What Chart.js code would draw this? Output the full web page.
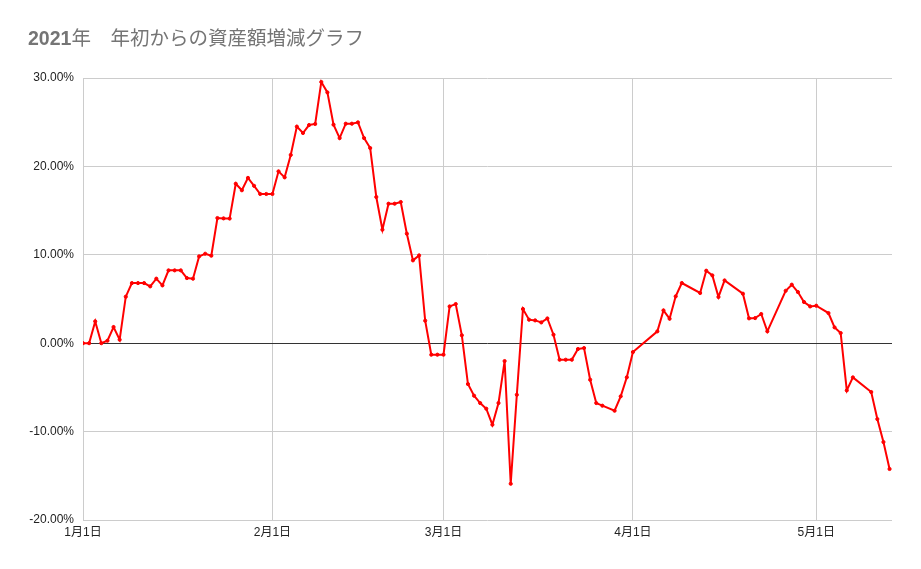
<!DOCTYPE html>
<html lang="ja">
<head>
<meta charset="UTF-8">
<title>2021年 年初からの資産額増減グラフ</title>
<script src="https://cdn.jsdelivr.net/npm/chart.js"></script>
<style>
  body { margin: 0; background: #fff; }
  #wrap { position: relative; width: 921px; height: 569px; }
  #title {
    position: absolute; left: 28px; top: 27px;
    font-family: "Liberation Sans", "Noto Sans CJK JP", sans-serif;
    font-size: 19.5px; line-height: 22px; color: #757575; white-space: pre;
  }
  #title b { font-weight: bold; }
</style>
</head>
<body>
<div id="wrap">
  <canvas id="assetChart" width="921" height="569"></canvas>
  <div id="title"><b>2021</b>年　年初からの資産額増減グラフ</div>
</div>
<script>
// days since Jan 1 (0 = 1月1日)
const days = [0,1,2,3,4,5,6,7,8,9,10,11,12,13,14,15,16,17,18,19,20,21,22,23,24,25,26,27,28,29,
  30,31,32,33,34,35,36,37,38,39,40,41,42,43,44,45,46,47,48,49,50,51,52,53,54,55,56,57,58,59,
  60,61,62,63,64,65,66,67,68,69,70,71,72,73,74,75,76,77,78,79,80,81,82,83,84,85,87,88,89,90,
  94,95,96,97,98,101,102,103,104,105,108,109,110,111,112,115,116,117,118,119,120,122,123,124,
  125,126,129,130,131,132];

// change in assets since start of year (%)
const changePct = [0.0,0.0,2.47,0.0,0.28,1.83,0.4,5.26,6.8,6.8,6.8,6.43,7.3,6.54,8.24,8.24,8.24,7.37,7.3,9.82,
  10.12,9.9,14.16,14.12,14.1,18.04,17.3,18.7,17.8,16.88,16.88,16.88,19.44,18.76,21.3,24.5,23.78,24.68,24.8,29.55,
  28.37,24.72,23.2,24.83,24.83,24.98,23.2,22.08,16.54,12.84,15.78,15.78,15.97,12.39,9.37,9.93,2.55,-1.3,-1.3,-1.3,
  4.16,4.43,0.89,-4.62,-5.94,-6.77,-7.41,-9.22,-6.77,-2.02,-15.9,-5.83,3.87,2.66,2.58,2.35,2.8,0.96,-1.87,-1.87,
  -1.87,-0.66,-0.55,-4.13,-6.77,-7.07,-7.64,-6.01,-3.86,-1.0,
  1.34,3.71,2.77,5.3,6.81,5.68,8.2,7.67,5.23,7.1,5.6,2.81,2.84,3.3,1.34,5.93,6.62,5.79,4.66,4.16,4.24,3.41,1.79,1.15,
  -5.34,-3.87,-5.52,-8.58,-11.18,-14.23];

// x axis month ticks
const monthTickDays = [0, 31, 59, 90, 120];
const monthTickLabels = ['1月1日', '2月1日', '3月1日', '4月1日', '5月1日'];

const yTicks = [-20, -10, 0, 10, 20, 30];

const points = days.map((d, i) => ({ x: d, y: changePct[i] }));

const labelFont = { family: '"Liberation Sans", "Noto Sans CJK JP", sans-serif', size: 12 };

const ctx = document.getElementById('assetChart').getContext('2d');
new Chart(ctx, {
  type: 'line',
  data: {
    datasets: [{
      label: '資産額増減',
      data: points,
      borderColor: '#ff0000',
      backgroundColor: '#ff0000',
      borderWidth: 2,
      pointRadius: 1.6,
      pointBorderWidth: 1,
      pointBackgroundColor: '#ff0000',
      pointBorderColor: '#ff0000',
      tension: 0
    }]
  },
  options: {
    responsive: false,
    animation: false,
    layout: { padding: { top: 78, right: 29, bottom: 0, left: 0 } },
    scales: {
      x: {
        type: 'linear',
        min: 0,
        max: 132.4,
        afterBuildTicks: function (scale) {
          scale.ticks = monthTickDays.map(v => ({ value: v }));
        },
        afterFit: function (scale) {
          scale.height = 49;
          scale.paddingLeft = 0;
          scale.paddingRight = 0;
        },
        ticks: {
          autoSkip: false,
          maxRotation: 0,
          padding: 5,
          color: '#222222',
          font: labelFont,
          callback: function (value) {
            const i = monthTickDays.indexOf(value);
            return i >= 0 ? monthTickLabels[i] : '';
          }
        },
        grid: { color: '#cccccc', drawTicks: false },
        border: { display: false }
      },
      y: {
        min: -20,
        max: 30,
        afterBuildTicks: function (scale) {
          scale.ticks = yTicks.map(v => ({ value: v }));
        },
        afterFit: function (scale) {
          scale.width = 83;
          scale.paddingTop = 0;
          scale.paddingBottom = 0;
        },
        ticks: {
          padding: 9,
          color: '#222222',
          font: { family: '"Liberation Sans", sans-serif', size: 12 },
          callback: function (value) { return value.toFixed(2) + '%'; }
        },
        grid: {
          drawTicks: false,
          color: function (c) { return c.tick && c.tick.value === 0 ? '#333333' : '#cccccc'; }
        },
        border: { display: false }
      }
    },
    plugins: {
      legend: { display: false },
      tooltip: { enabled: false }
    }
  }
});
</script>
</body>
</html>
